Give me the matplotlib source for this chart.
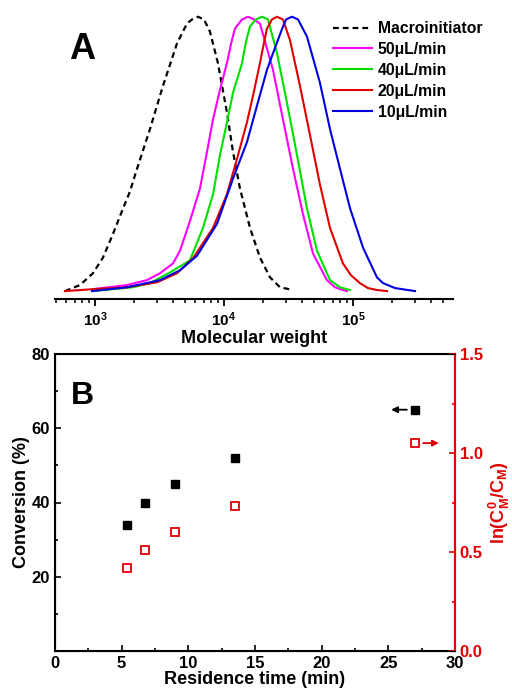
import numpy as np
import matplotlib
matplotlib.use("Agg")
import matplotlib.pyplot as plt

plt.rcParams['font.family'] = ['Liberation Sans', 'DejaVu Sans']
plt.rcParams['font.weight'] = 'bold'
plt.rcParams['mathtext.fontset'] = 'custom'
plt.rcParams['mathtext.rm'] = 'Liberation Sans:bold'
plt.rcParams['mathtext.it'] = 'Liberation Sans:bold'
plt.rcParams['mathtext.bf'] = 'Liberation Sans:bold'

# ---- panel A: GPC traces (log10 M, normalised signal) ----
macro_logm = [2.767, 2.884, 2.984, 3.062, 3.140, 3.209, 3.271, 3.326, 3.426, 3.527, 3.636, 3.713,
              3.752, 3.798, 3.845, 3.891, 3.953, 4.023, 4.070, 4.124, 4.202, 4.279, 4.357, 4.434, 4.535]
macro_h = [0.0, 0.022, 0.065, 0.122, 0.209, 0.291, 0.363, 0.446, 0.590, 0.748, 0.903, 0.975,
           0.99, 1.0, 0.99, 0.946, 0.831, 0.651, 0.507, 0.374, 0.230, 0.122, 0.050, 0.014, 0.004]

f50_logm = [2.984, 3.248, 3.403, 3.504, 3.605, 3.659, 3.736, 3.814, 3.868, 3.915, 3.969, 4.023, 4.054,
            4.085, 4.140, 4.186, 4.233, 4.279, 4.380, 4.457, 4.535, 4.612, 4.690, 4.798, 4.860,
            4.922, 4.953]
f50_h = [0.007, 0.022, 0.040, 0.065, 0.101, 0.147, 0.255, 0.374, 0.507, 0.626, 0.734, 0.831, 0.90,
         0.957, 0.99, 1.0, 0.99, 0.975, 0.806, 0.626, 0.446, 0.281, 0.137, 0.040, 0.014,
         0.004, 0.0]

f40_logm = [2.984, 3.295, 3.426, 3.581, 3.736, 3.837, 3.915, 3.969, 4.023, 4.070, 4.140, 4.171,
            4.202, 4.248, 4.295, 4.341, 4.411, 4.488, 4.566, 4.643, 4.721, 4.822, 4.899, 4.977]
f40_h = [0.0, 0.014, 0.029, 0.068, 0.112, 0.230, 0.353, 0.496, 0.615, 0.723, 0.831, 0.91,
         0.965, 0.99, 1.0, 0.99, 0.867, 0.687, 0.496, 0.302, 0.147, 0.040, 0.014, 0.004]

f20_logm = [2.767, 2.984, 3.248, 3.481, 3.636, 3.760, 3.915, 4.023, 4.101, 4.178, 4.225, 4.279, 4.306,
            4.333, 4.372, 4.411, 4.457, 4.512, 4.589, 4.667, 4.744, 4.822, 4.922, 4.984, 5.054,
            5.116, 5.186, 5.264]
f20_h = [0.0, 0.007, 0.014, 0.032, 0.065, 0.12, 0.230, 0.353, 0.482, 0.615, 0.712, 0.831, 0.896,
         0.957, 0.99, 1.0, 0.99, 0.914, 0.748, 0.568, 0.388, 0.230, 0.101, 0.058, 0.029,
         0.011, 0.004, 0.0]

f10_logm = [2.977, 3.248, 3.504, 3.659, 3.791, 3.946, 4.070, 4.178, 4.256, 4.333, 4.380, 4.457,
            4.481, 4.527, 4.574, 4.643, 4.744, 4.822, 4.899, 4.977, 5.078, 5.186, 5.233, 5.326, 5.481]
f10_h = [0.0, 0.014, 0.040, 0.076, 0.129, 0.245, 0.410, 0.543, 0.676, 0.806, 0.867, 0.964,
         0.99, 1.0, 0.99, 0.928, 0.759, 0.590, 0.446, 0.302, 0.158, 0.050, 0.029, 0.011, 0.0]

# ---- panel B ----
res_time = [5.4, 6.75, 9.0, 13.5, 27.0]
conversion = [34, 40, 45, 52, 65]
ln_ratio = [0.42, 0.51, 0.60, 0.73, 1.05]

fig = plt.figure(figsize=(5.12, 6.94), dpi=100)

axA = fig.add_axes([0.1074, 1 - 299 / 694, 0.7773, 296 / 694])
axA.plot(10 ** np.array(macro_logm), macro_h, ls=(0, (2.6, 1.8)), color='black', lw=1.6, label='Macroinitiator')
axA.plot(10 ** np.array(f50_logm), f50_h, color='#ff00ff', lw=1.5, label='50μL/min')
axA.plot(10 ** np.array(f40_logm), f40_h, color='#00e000', lw=1.5, label='40μL/min')
axA.plot(10 ** np.array(f20_logm), f20_h, color='#e00000', lw=1.5, label='20μL/min')
axA.plot(10 ** np.array(f10_logm), f10_h, color='#0000e0', lw=1.5, label='10μL/min')
axA.set_xscale('log')
axA.set_xlim(10 ** 2.69, 10 ** 5.775)
axA.set_ylim(-0.0288, 1.05)
for s in ['left', 'right', 'top']:
    axA.spines[s].set_visible(False)
axA.spines['bottom'].set_linewidth(1.5)
axA.set_yticks([])
axA.set_xticks([1e3, 1e4, 1e5])
axA.set_xticklabels([r'10$^{3}$', r'10$^{4}$', r'10$^{5}$'], fontsize=11, fontweight='bold')
axA.tick_params(axis='x', which='major', direction='out', length=5, width=1.3, pad=3)
axA.tick_params(axis='x', which='minor', direction='out', length=3, width=1.1)
axA.set_xlabel('Molecular weight', fontsize=13, fontweight='bold', labelpad=1)
axA.text(0.035, 0.902, 'A', transform=axA.transAxes, fontsize=26, fontweight='bold', va='top')
axA.legend(loc='upper left', bbox_to_anchor=(333 / 512, 1 - 21 / 694), bbox_transform=fig.transFigure,
           frameon=False, handlelength=2.5, handletextpad=0.35, labelspacing=0.38,
           borderpad=0, borderaxespad=0, prop={'weight': 'bold', 'size': 11.3})

axB = fig.add_axes([0.1074, 1 - 651 / 694, 400 / 512, 297 / 694])
axB.plot(res_time, conversion, 's', color='black', ms=6)
axB.set_xlim(0, 30)
axB.set_ylim(0, 80)
axB.set_xticks(np.arange(0, 31, 5))
axB.set_xticks(np.arange(2.5, 30, 5), minor=True)
axB.set_yticks([20, 40, 60, 80])
axB.set_yticks([10, 30, 50, 70], minor=True)
axB.tick_params(which='both', direction='in', labelsize=12, width=1.2)
axB.tick_params(which='major', length=4)
axB.tick_params(which='minor', length=2.5)
for lab in axB.get_xticklabels() + axB.get_yticklabels():
    lab.set_fontweight('bold')
axB.set_xlabel('Residence time (min)', fontsize=13, fontweight='bold', labelpad=0)
axB.set_ylabel('Conversion (%)', fontsize=13, fontweight='bold', labelpad=1)
for s in axB.spines.values():
    s.set_linewidth(1.5)
axB.text(0.04, 0.91, 'B', transform=axB.transAxes, fontsize=23, fontweight='bold', va='top')
axB.annotate('', xy=(25.0, 65), xytext=(26.6, 65),
             arrowprops=dict(arrowstyle='-|>', color='black', lw=1.3, mutation_scale=9))

axR = axB.twinx()
axR.plot(res_time, ln_ratio, 's', mfc='white', mec='#e00000', mew=1.3, ms=5.5)
axR.set_ylim(0, 1.5)
axR.set_yticks([0.0, 0.5, 1.0, 1.5])
axR.set_yticklabels(['0.0', '0.5', '1.0', '1.5'])
axR.set_yticks([0.25, 0.75, 1.25], minor=True)
axR.tick_params(axis='y', which='both', direction='in', colors='#e00000', labelsize=12, width=1.2)
axR.tick_params(which='major', length=4)
axR.tick_params(which='minor', length=2.5)
for lab in axR.get_yticklabels():
    lab.set_fontweight('bold')
axR.spines['right'].set_color('#e00000')
axR.spines['right'].set_linewidth(1.5)
axR.set_ylabel(r'ln(C$_{\mathrm{M}}^{0}$/C$_{\mathrm{M}}$)', color='#e00000', fontsize=13,
               fontweight='bold', labelpad=3)
axR.annotate('', xy=(29.0, 1.05), xytext=(27.4, 1.05),
             arrowprops=dict(arrowstyle='-|>', color='#e00000', lw=1.3, mutation_scale=9))

fig.savefig('out.png', dpi=100)
